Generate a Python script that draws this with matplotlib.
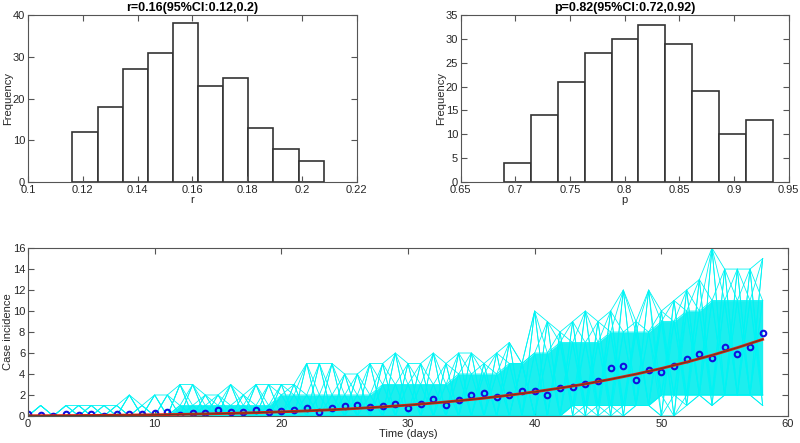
import numpy as np
import matplotlib
matplotlib.use('Agg')
import matplotlib.pyplot as plt

plt.rcParams['font.family'] = ['Liberation Sans', 'DejaVu Sans']
plt.rcParams['font.size'] = 8

# histogram of r
r_lo, r_hi = 0.1162, 0.2079
r_counts = [12, 18, 27, 31, 38, 23, 25, 13, 8, 5]
# histogram of p
p_lo, p_hi = 0.6893, 0.9357
p_counts = [4, 14, 21, 27, 30, 33, 29, 19, 10, 13]

days = np.arange(0, 59)
cases = [0.2, 0.1, 0.0, 0.2, 0.1, 0.2, 0.0, 0.2, 0.2, 0.2,
         0.3, 0.4, 0.1, 0.3, 0.3, 0.6, 0.4, 0.4, 0.6, 0.4,
         0.5, 0.57, 0.76, 0.41, 0.79, 0.95, 1.04, 0.82, 0.98, 1.14,
         0.76, 1.17, 1.61, 1.04, 1.55, 2.03, 2.15, 1.77, 1.96, 2.37,
         2.4, 1.96, 2.63, 2.75, 3.0, 3.35, 4.56, 4.75, 3.42, 4.34,
         4.21, 4.75, 5.41, 5.95, 5.57, 6.61, 5.95, 6.55, 7.94]

# fitted curve, read every second day
fit_days = np.arange(0, 59, 2)
fit_vals = [0.021, 0.032, 0.045, 0.063, 0.086, 0.116, 0.152, 0.197, 0.251, 0.316,
            0.394, 0.487, 0.595, 0.721, 0.868, 1.036, 1.23, 1.45, 1.70, 1.98,
            2.30, 2.66, 3.05, 3.50, 3.99, 4.53, 5.13, 5.79, 6.51, 7.30]

# bootstrap realizations: outer envelope and dense core, per day
upper = [0, 1, 0, 1, 1, 1, 1, 1, 2, 1,
         2, 2, 3, 3, 2, 2, 3, 2, 3, 3,
         3, 3, 5, 5, 5, 4, 4, 5, 5, 6,
         5, 5, 6, 5, 6, 6, 5, 6, 7, 5,
         10, 9, 8, 9, 10, 9, 10, 12, 9, 12,
         10, 11, 12, 13, 16, 14, 14, 14, 15]
lower = [0] * 47 + [0, 1, 1, 0, 0, 1, 2, 1, 2, 2, 2, 1]
core_hi = ([0] * 12 + [1] * 8 + [2] * 8 + [3] * 6 + [4] * 4 + [5, 5, 6, 6]
           + [7] * 4 + [8] * 4 + [9, 9, 10, 10] + [11] * 5)
core_lo = [0] * 43 + [1] * 7 + [2] * 9

edge = '#555555'
txt = '#262626'


def style(ax):
    ax.tick_params(direction='in', top=True, right=True, length=4, pad=2,
                   colors=edge, labelcolor=txt, labelsize=8)
    for s in ax.spines.values():
        s.set_color(edge)


fig = plt.figure(figsize=(8, 4.43), dpi=100)

ax1 = fig.add_axes([0.035, 0.589, 0.411, 0.377])
edges = np.linspace(r_lo, r_hi, len(r_counts) + 1)
ax1.bar(edges[:-1], r_counts, width=np.diff(edges), align='edge',
        color='white', edgecolor='#333333', linewidth=1.2)
ax1.set_xlim(0.1, 0.22)
ax1.set_ylim(0, 40)
ax1.set_xticks(np.arange(0.1, 0.221, 0.02))
ax1.set_xticklabels(['0.1', '0.12', '0.14', '0.16', '0.18', '0.2', '0.22'])
ax1.set_xlabel('r', color=txt, fontsize=8, labelpad=0)
ax1.set_ylabel('Frequency', color=txt, fontsize=8, labelpad=0)
ax1.set_title('r=0.16(95%CI:0.12,0.2)', fontsize=9, fontweight='bold', pad=3)
style(ax1)

ax2 = fig.add_axes([0.576, 0.589, 0.41, 0.377])
edges = np.linspace(p_lo, p_hi, len(p_counts) + 1)
ax2.bar(edges[:-1], p_counts, width=np.diff(edges), align='edge',
        color='white', edgecolor='#333333', linewidth=1.2)
ax2.set_xlim(0.65, 0.95)
ax2.set_ylim(0, 35)
ax2.set_xticks(np.arange(0.65, 0.951, 0.05))
ax2.set_xticklabels(['0.65', '0.7', '0.75', '0.8', '0.85', '0.9', '0.95'])
ax2.set_xlabel('p', color=txt, fontsize=8, labelpad=0)
ax2.set_ylabel('Frequency', color=txt, fontsize=8, labelpad=0)
ax2.set_title('p=0.82(95%CI:0.72,0.92)', fontsize=9, fontweight='bold', pad=3)
style(ax2)

ax3 = fig.add_axes([0.035, 0.061, 0.95, 0.379])
up = np.array(upper)
lo = np.array(lower)
chi = np.array(core_hi)
clo = np.array(core_lo)
cyan = '#00f4f4'
ax3.fill_between(days, clo, chi, color='#10eeee', alpha=0.95, lw=0)
even = days % 2 == 0
pairs = [(up, chi), (chi, clo), (clo, lo), (up, clo), (chi, lo), (up, lo)]
for a, b in pairs:
    ax3.plot(days, np.where(even, a, b), color=cyan, lw=0.6)
    ax3.plot(days, np.where(even, b, a), color=cyan, lw=0.6)
for s in [up, lo, chi, clo]:
    ax3.plot(days, s, color=cyan, lw=0.6)
ax3.plot(days, cases, 'o', mfc='none', mec='#1010e0', mew=1.5, ms=4)
ax3.plot(fit_days, fit_vals, color='#e02010', lw=2.0)
ax3.plot(fit_days, fit_vals, color='#6b3a20', lw=0.8)
ax3.set_xlim(0, 60)
ax3.set_ylim(0, 16)
ax3.set_xticks(range(0, 61, 10))
ax3.set_yticks(range(0, 17, 2))
ax3.set_xlabel('Time (days)', color=txt, fontsize=8, labelpad=0)
ax3.set_ylabel('Case incidence', color=txt, fontsize=8, labelpad=0)
style(ax3)

fig.savefig('out.png', dpi=100)
